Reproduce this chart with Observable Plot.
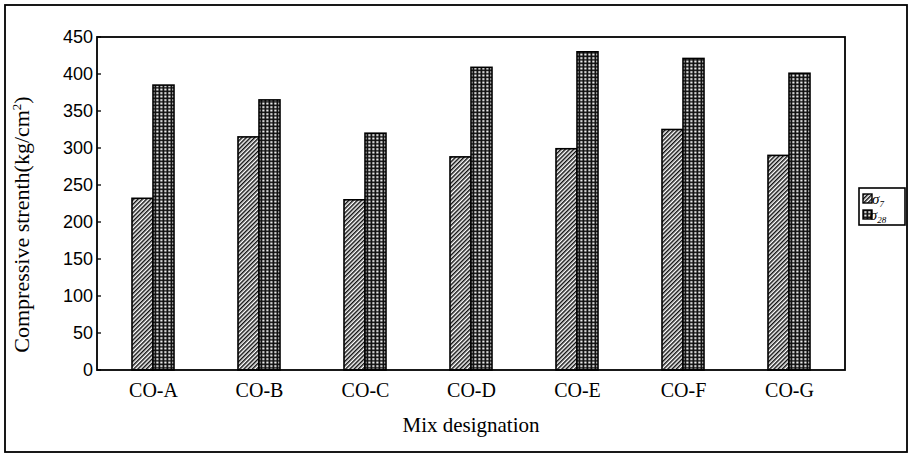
<!DOCTYPE html>
<html>
<head>
<meta charset="utf-8">
<script src="https://cdn.jsdelivr.net/npm/d3@7"></script>
<script src="https://cdn.jsdelivr.net/npm/@observablehq/plot@0.6"></script>
<style>
  html, body { margin: 0; padding: 0; background: #fff; }
  #chart { position: relative; width: 910px; height: 454px; }
</style>
</head>
<body>
<div id="chart"></div>
<script>
const mixes = ["CO-A", "CO-B", "CO-C", "CO-D", "CO-E", "CO-F", "CO-G"];
const series = ["s7", "s28"];
const sigma7 = [232, 315, 230, 288, 299, 325, 290];
const sigma28 = [385, 365, 320, 409, 430, 421, 401];
const yTicks = [0, 50, 100, 150, 200, 250, 300, 350, 400, 450];

const data = [];
mixes.forEach((m, i) => {
  data.push({mix: m, series: "s7", value: sigma7[i]});
  data.push({mix: m, series: "s28", value: sigma28[i]});
});

const W = 910, H = 454;
const plot = Plot.plot({
  width: W,
  height: H,
  marginLeft: 97,
  marginRight: 65,
  marginTop: 37,
  marginBottom: 84,
  style: {background: "#fff", color: "#000"},
  fx: {domain: mixes, paddingInner: 0.6, paddingOuter: 0.3, label: null},
  x: {domain: series, axis: null, padding: 0},
  y: {domain: [0, 450], axis: null},
  marks: [
    Plot.barY(data, {
      fx: "mix", x: "series", y: "value",
      fill: d => d.series === "s7" ? "url(#hatch7)" : "url(#grid28)",
      stroke: "#000", strokeWidth: 1.6
    }),
    Plot.axisFx({anchor: "bottom", tickSize: 0, tickPadding: 12, label: null,
      fontSize: 20, fontFamily: "Liberation Serif"})
  ]
});

document.getElementById("chart").appendChild(plot);

const svg = d3.select(plot);
const defs = svg.insert("defs", ":first-child");
const p7 = defs.append("pattern").attr("id", "hatch7")
  .attr("patternUnits", "userSpaceOnUse").attr("width", 3).attr("height", 3)
  .attr("patternTransform", "rotate(45)");
p7.append("rect").attr("width", 3).attr("height", 3).attr("fill", "#fff");
p7.append("rect").attr("width", 1.5).attr("height", 3).attr("fill", "#111");
const p28 = defs.append("pattern").attr("id", "grid28")
  .attr("patternUnits", "userSpaceOnUse").attr("width", 4).attr("height", 3.5);
p28.append("rect").attr("width", 4).attr("height", 3.5).attr("fill", "#111");
p28.append("rect").attr("x", 1.3).attr("y", 1.2).attr("width", 2.2).attr("height", 1.8).attr("fill", "#fff");

const ys = plot.scale("y");
const fxs = plot.scale("fx");
const x0 = fxs.range[0], x1 = fxs.range[1];
const yTop = ys.apply(450), yBot = ys.apply(0);

// y axis: inward ticks and labels, from the plot's y scale
const ya = svg.append("g");
ya.selectAll("line").data(yTicks).join("line")
  .attr("x1", x0).attr("x2", x0 + 4)
  .attr("y1", d => ys.apply(d)).attr("y2", d => ys.apply(d))
  .attr("stroke", "#000").attr("stroke-width", 1.3);
ya.selectAll("text").data(yTicks).join("text")
  .attr("x", x0 - 4).attr("y", d => ys.apply(d)).attr("dy", "0.34em")
  .attr("text-anchor", "end")
  .attr("font-family", "Liberation Sans").attr("font-size", 18)
  .text(d => d);

// plot frame
svg.append("rect")
  .attr("x", x0).attr("y", yTop).attr("width", x1 - x0).attr("height", yBot - yTop)
  .attr("fill", "none").attr("stroke", "#000").attr("stroke-width", 1.8);

// outer frame
svg.append("rect")
  .attr("x", 5).attr("y", 5).attr("width", 902).attr("height", 447)
  .attr("fill", "none").attr("stroke", "#000").attr("stroke-width", 1.8);

// axis titles
const yt = svg.append("text")
  .attr("transform", `translate(29,${(yTop + yBot) / 2 + 21}) rotate(-90)`)
  .attr("text-anchor", "middle")
  .attr("font-family", "Liberation Serif").attr("font-size", 22);
yt.append("tspan").text("Compressive strenth(kg/cm");
yt.append("tspan").attr("dy", -8).attr("font-size", 13).text("2");
yt.append("tspan").attr("dy", 8).text(")");

svg.append("text")
  .attr("x", (x0 + x1) / 2).attr("y", 432)
  .attr("text-anchor", "middle")
  .attr("font-family", "Liberation Serif").attr("font-size", 21)
  .text("Mix designation");

// legend
const lg = svg.append("g").attr("transform", "translate(859,188)");
lg.append("rect").attr("width", 46).attr("height", 37)
  .attr("fill", "#fff").attr("stroke", "#000").attr("stroke-width", 1.6);
const items = [{label: "7", fill: "url(#hatch7)"}, {label: "28", fill: "url(#grid28)"}];
items.forEach((it, i) => {
  const g = lg.append("g").attr("transform", `translate(4,${6 + i * 16})`);
  g.append("rect").attr("width", 9).attr("height", 9).attr("fill", it.fill)
    .attr("stroke", "#000").attr("stroke-width", 1.4);
  const t = g.append("text").attr("x", 15).attr("y", 10)
    .attr("font-family", "Liberation Serif").attr("font-size", 15)
    .attr("font-style", "italic");
  t.append("tspan").text("σ");
  t.append("tspan").attr("dy", 3).attr("font-size", 9).text(it.label);
});
</script>
</body>
</html>
